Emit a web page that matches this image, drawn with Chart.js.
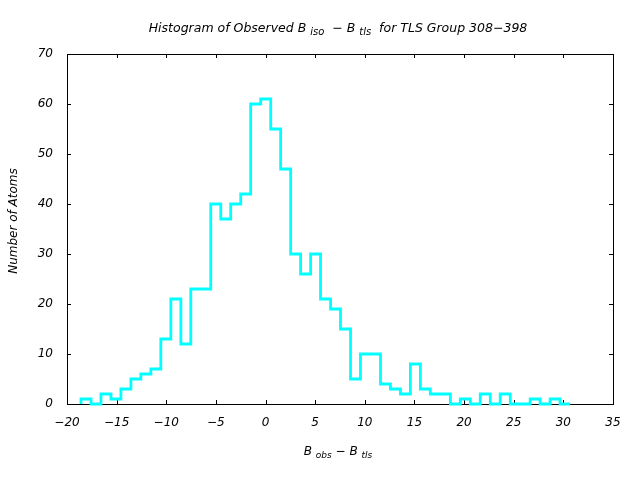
<!DOCTYPE html>
<html>
<head>
<meta charset="utf-8">
<script src="https://cdn.jsdelivr.net/npm/chart.js@4/dist/chart.umd.min.js"></script>
<style>
  html, body { margin: 0; padding: 0; background: #fff; }
  canvas { display: block; }
</style>
</head>
<body>
<canvas id="histChart" width="640" height="480"></canvas>
<script>
// bin edges (B_obs - B_tls)
const binEdges = [-18.59, -17.58, -16.58, -15.57, -14.57, -13.56, -12.56, -11.55, -10.55, -9.54,
  -8.53, -7.53, -6.52, -5.52, -4.51, -3.51, -2.50, -1.50, -0.49, 0.52,
  1.52, 2.53, 3.53, 4.54, 5.54, 6.55, 7.55, 8.56, 9.56, 10.57,
  11.58, 12.58, 13.59, 14.59, 15.60, 16.60, 17.61, 18.62, 19.62, 20.63,
  21.63, 22.64, 23.64, 24.65, 25.65, 26.66, 27.66, 28.67, 29.67, 30.68];
// atoms per bin
const atomCounts = [1, 0, 2, 1, 3, 5, 6, 7, 13, 21,
  12, 23, 23, 40, 37, 40, 42, 60, 61, 55,
  47, 30, 26, 30, 21, 19, 15, 5, 10, 10,
  4, 3, 2, 8, 3, 2, 2, 0, 1, 0,
  2, 0, 2, 0, 0, 1, 0, 1, 0];
const xRange = [-20, 35];
const yRange = [0, 70];

const FONT = 'DejaVu Sans';
const minus = s => String(s).replace('-', '\u2212');

// histeps: start at baseline, each bin holds its value to the next edge
const points = [{ x: binEdges[0], y: 0 }];
atomCounts.forEach((c, i) => points.push({ x: binEdges[i], y: c }));
points.push({ x: binEdges[binEdges.length - 1], y: atomCounts[atomCounts.length - 1] });

function richText(ctx, parts, cx, y, size) {
  const subSize = Math.round(size * 0.78);
  let total = 0;
  parts.forEach(p => {
    ctx.font = 'italic ' + (p.sub ? subSize : size) + 'px "' + FONT + '"';
    total += ctx.measureText(p.t).width;
  });
  let x = cx - total / 2;
  parts.forEach(p => {
    ctx.font = 'italic ' + (p.sub ? subSize : size) + 'px "' + FONT + '"';
    ctx.fillText(p.t, x, p.sub ? y + 3 : y);
    x += ctx.measureText(p.t).width;
  });
}

const framePlugin = {
  id: 'frame',
  beforeDatasetsDraw(chart) {
    const { ctx, chartArea: a, scales } = chart;
    ctx.save();
    ctx.strokeStyle = '#000';
    ctx.lineWidth = 1;
    ctx.strokeRect(a.left + 0.5, a.top + 0.5, a.right - a.left, a.bottom - a.top);
    ctx.beginPath();
    scales.x.ticks.forEach(t => {
      const px = Math.round(scales.x.getPixelForValue(t.value)) + 0.5;
      ctx.moveTo(px, a.bottom); ctx.lineTo(px, a.bottom - 4);
      ctx.moveTo(px, a.top); ctx.lineTo(px, a.top + 4);
    });
    scales.y.ticks.forEach(t => {
      const py = Math.round(scales.y.getPixelForValue(t.value)) + 0.5;
      ctx.moveTo(a.left, py); ctx.lineTo(a.left + 4, py);
      ctx.moveTo(a.right, py); ctx.lineTo(a.right - 4, py);
    });
    ctx.stroke();
    ctx.restore();
  },
  afterDraw(chart) {
    const { ctx } = chart;
    ctx.save();
    ctx.fillStyle = '#000';
    ctx.textBaseline = 'alphabetic';
    ctx.textAlign = 'left';
    richText(ctx, [
      { t: 'Histogram of Observed B ' },
      { t: 'iso', sub: true },
      { t: '  \u2212 B ' },
      { t: 'tls', sub: true },
      { t: '  for TLS Group 308\u2212398' }
    ], 338, 32, 12.5);
    richText(ctx, [
      { t: 'B ' },
      { t: 'obs', sub: true },
      { t: ' \u2212 B ' },
      { t: 'tls', sub: true }
    ], 338, 455, 12);
    ctx.translate(17, 221);
    ctx.rotate(-Math.PI / 2);
    ctx.textAlign = 'center';
    ctx.font = 'italic 12px "' + FONT + '"';
    ctx.fillText('Number of Atoms', 0, 0);
    ctx.restore();
  }
};

new Chart(document.getElementById('histChart'), {
  type: 'line',
  data: {
    datasets: [{
      data: points,
      stepped: true,
      borderColor: '#00ffff',
      borderWidth: 2.8,
      pointRadius: 0,
      fill: false,
      clip: false
    }]
  },
  options: {
    responsive: false,
    animation: false,
    layout: { padding: { left: 0, top: 54, right: 27, bottom: 0 } },
    plugins: { legend: { display: false }, tooltip: { enabled: false } },
    scales: {
      x: {
        type: 'linear',
        min: xRange[0], max: xRange[1],
        grid: { display: false, drawTicks: false },
        border: { display: false },
        ticks: {
          stepSize: 5, padding: 12, maxRotation: 0, color: '#000',
          font: { family: FONT, size: 12, style: 'italic' },
          callback: v => minus(v)
        },
        afterFit: s => { s.height = 76; }
      },
      y: {
        min: yRange[0], max: yRange[1],
        grid: { display: false, drawTicks: false },
        border: { display: false },
        ticks: {
          stepSize: 10, padding: 14, color: '#000',
          font: { family: FONT, size: 12, style: 'italic' }
        },
        afterFit: s => { s.width = 67; }
      }
    }
  },
  plugins: [framePlugin]
});
</script>
</body>
</html>
